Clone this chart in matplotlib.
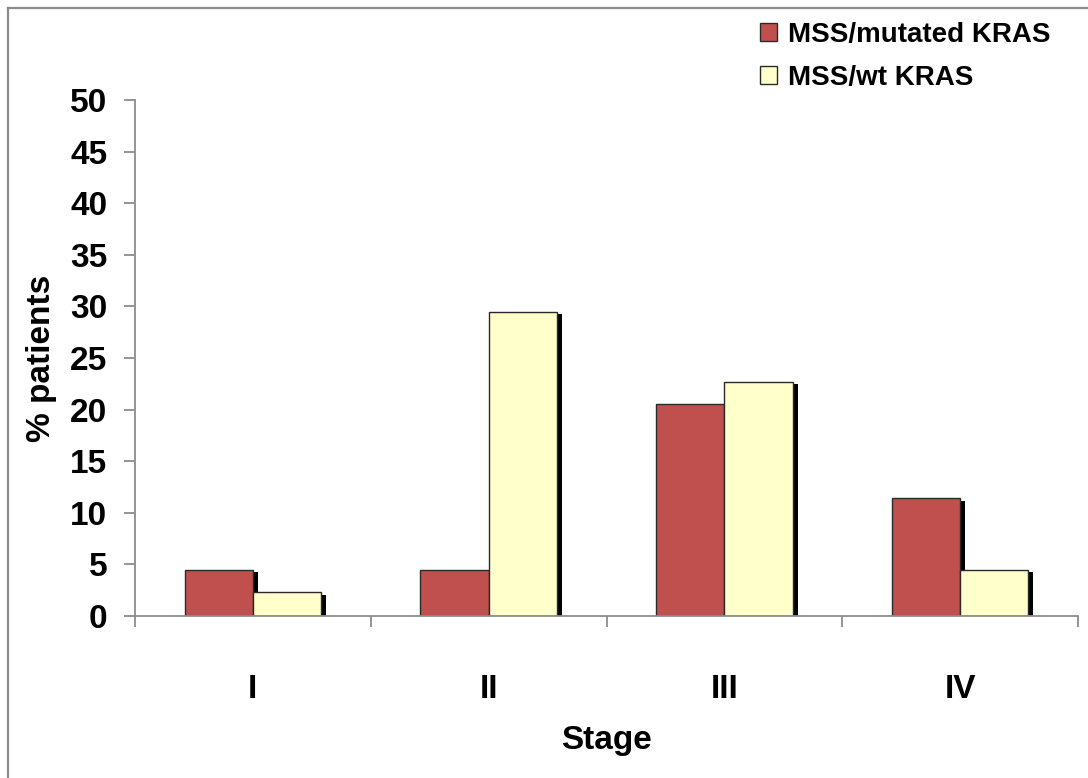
import matplotlib.pyplot as plt
import numpy as np
from matplotlib import patheffects
from matplotlib.lines import Line2D

plt.rcParams['font.family'] = ['Liberation Sans', 'DejaVu Sans']
plt.rcParams['font.weight'] = 'bold'

stages = ['I', 'II', 'III', 'IV']
mutated = [4.5, 4.5, 20.5, 11.4]
wild_type = [2.3, 29.5, 22.7, 4.5]
series_names = ['MSS/mutated KRAS', 'MSS/wt KRAS']
yticks = list(range(0, 55, 5))

red = '#C0504D'
cream = '#FFFFCC'
grey = '#8C8C8C'

fig = plt.figure(figsize=(10.88, 7.78), dpi=100)
ax = fig.add_axes([135/1088, 1 - 616/778, 943/1088, 516/778])

x = np.arange(len(stages))
w = 0.29
shadow = [patheffects.SimplePatchShadow(offset=(3.6, -1.8), shadow_rgbFace='black', alpha=1.0),
          patheffects.Normal()]

b1 = ax.bar(x - w/2, mutated, w, color=red, edgecolor='#2a2a2a', linewidth=1.0,
            label=series_names[0])
b2 = ax.bar(x + w/2, wild_type, w, color=cream, edgecolor='#2a2a2a', linewidth=1.0,
            label=series_names[1])
for bars in (b1, b2):
    for p in bars:
        p.set_path_effects(shadow)

ax.set_xlim(-0.5, len(stages) - 0.5)
ax.set_ylim(0, 50)
ax.set_yticks(yticks)
ax.set_yticklabels([str(t) for t in yticks], fontsize=24, fontweight='bold')

# category labels in the middle, ticks on the boundaries
ax.set_xticks(np.arange(len(stages) + 1) - 0.5)
ax.set_xticklabels([])
ax.set_xticks(x, minor=True)
ax.set_xticklabels(stages, minor=True, fontsize=24, fontweight='bold')
ax.tick_params(axis='x', which='minor', length=0, pad=42)
ax.tick_params(axis='x', which='major', length=8, width=1.3, color=grey, direction='out')
ax.tick_params(axis='y', length=8, width=1.3, color=grey, direction='out', pad=12)

for side in ('top', 'right'):
    ax.spines[side].set_visible(False)
for side in ('left', 'bottom'):
    ax.spines[side].set_color(grey)
    ax.spines[side].set_linewidth(1.3)

ax.set_ylabel('% patients', fontsize=24, fontweight='bold')
ax.set_xlabel('Stage', fontsize=24, fontweight='bold')
ax.yaxis.set_label_coords(-(135 - 42) / 943, 0.5)
ax.xaxis.set_label_coords(0.5, -(740 - 616) / 516)
ax.xaxis.label.set_va('center')
ax.yaxis.label.set_va('center')

leg = fig.legend(handles=[b1, b2], loc='upper left', bbox_to_anchor=(760/1088, 1 - 22/778),
                 frameon=False, fontsize=20, handlelength=0.62, handleheight=0.62,
                 handletextpad=0.4, labelspacing=0.62, borderpad=0, borderaxespad=0)
for h in leg.legend_handles:
    h.set_path_effects([])

# outer frame lines
fig.add_artist(Line2D([8/1088, 8/1088], [0, 1 - 8/778], color=grey, lw=1.6))
fig.add_artist(Line2D([8/1088, 1], [1 - 8/778, 1 - 8/778], color=grey, lw=1.6))

fig.savefig('out.png', dpi=100)
